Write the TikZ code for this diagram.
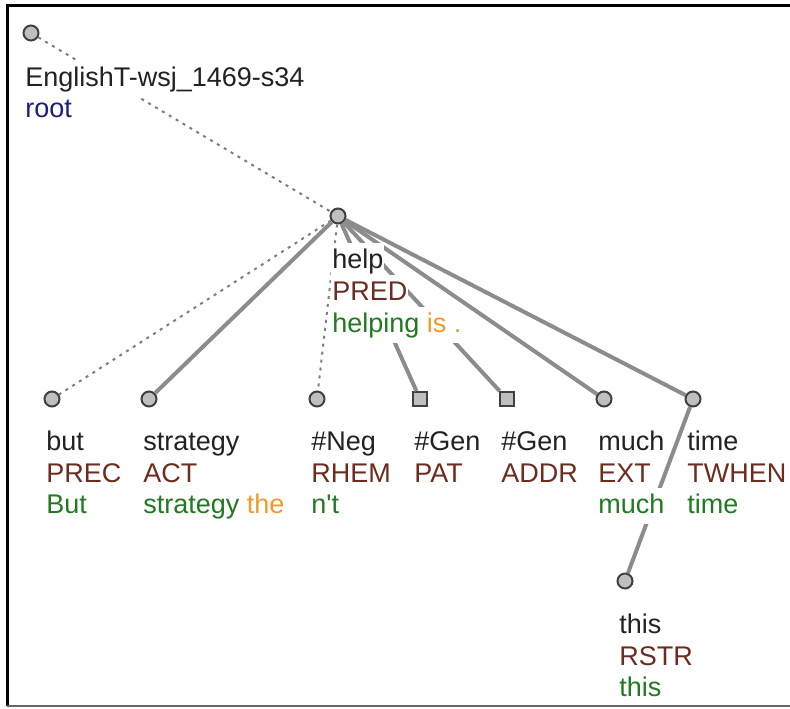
\documentclass[tikz,border=0pt]{standalone}
\usepackage{fontspec}
\setmainfont{Liberation Sans}
\definecolor{wordblack}{HTML}{222222}
\definecolor{funcbrown}{HTML}{6E2C1F}
\definecolor{formgreen}{HTML}{217A21}
\definecolor{auxorange}{HTML}{F09A2A}
\definecolor{rootblue}{HTML}{1C1C80}
\definecolor{edgegray}{HTML}{8C8C8C}

\begin{document}
\begin{tikzpicture}[x=0.5pt,y=-0.5pt,
    font=\fontsize{13.5}{16}\selectfont,
    solidedge/.style={draw=edgegray,line width=2pt},
    dottededge/.style={draw=edgegray!90!black,line width=1pt,dash pattern=on 1.5pt off 2.5pt},
    lbl/.style={anchor=base west,fill=white,inner xsep=0.5pt,inner ysep=2.5pt,
      text height=10pt,text depth=3pt}]
  \useasboundingbox (0,0) rectangle (790,708);

  \begin{scope}[every node/.style={circle,draw=black!75,fill=black!25,line width=1pt,
      minimum size=7.5pt,inner sep=0pt}]
      \node (root) at (31,33) {};
      \node (help) at (338,216) {};
      \node (but) at (52,399) {};
      \node (strategy) at (149,399) {};
      \node (neg) at (317,399) {};
      \node[rectangle,minimum size=7pt] (genpat) at (420,399) {};
      \node[rectangle,minimum size=7pt] (genaddr) at (507,399) {};
      \node (much) at (604,399) {};
      \node (time) at (693,399) {};
      \node (this) at (625,581) {};
  \end{scope}

  \begin{scope}
      \path [dottededge] (root) edge (help);
      \path [dottededge] (help) edge (but);
      \path [solidedge] (help) edge (strategy);
      \path [dottededge] (help) edge (neg);
      \path [solidedge] (help) edge (genpat);
      \path [solidedge] (help) edge (genaddr);
      \path [solidedge] (help) edge (much);
      \path [solidedge] (help) edge (time);
      \path [solidedge] (time) edge (this);
  \end{scope}

  \begin{scope}[every node/.style={lbl}]
      \node[text=wordblack] (root1) at (24,86) {EnglishT-wsj\_1469-s34};
      \node[text=rootblue] (root2) at (24,117) {root};

      \node[text=wordblack] (help1) at (331,268) {help};
      \node[text=funcbrown] (help2) at (331,300) {PRED};
      \node[text=formgreen] (help3) at (331,332) {helping \textcolor{auxorange}{is .}};

      \node[text=wordblack] (but1) at (45,450) {but};
      \node[text=funcbrown] (but2) at (45,482) {PREC};
      \node[text=formgreen] (but3) at (45,513) {But};

      \node[text=wordblack] (strategy1) at (142,450) {strategy};
      \node[text=funcbrown] (strategy2) at (142,482) {ACT};
      \node[text=formgreen] (strategy3) at (142,513) {strategy \textcolor{auxorange}{the}};

      \node[text=wordblack] (neg1) at (310,450) {\#Neg};
      \node[text=funcbrown] (neg2) at (310,482) {RHEM};
      \node[text=formgreen] (neg3) at (310,513) {n\textquotesingle t};

      \node[text=wordblack] (genpat1) at (413,450) {\#Gen};
      \node[text=funcbrown] (genpat2) at (413,482) {PAT};

      \node[text=wordblack] (genaddr1) at (500,450) {\#Gen};
      \node[text=funcbrown] (genaddr2) at (500,482) {ADDR};

      \node[text=wordblack] (much1) at (597,450) {much};
      \node[text=funcbrown] (much2) at (597,482) {EXT};
      \node[text=formgreen] (much3) at (597,513) {much};

      \node[text=wordblack] (time1) at (686,450) {time};
      \node[text=funcbrown] (time2) at (686,482) {TWHEN};
      \node[text=formgreen] (time3) at (686,513) {time};

      \node[text=wordblack] (this1) at (618,633) {this};
      \node[text=funcbrown] (this2) at (618,665) {RSTR};
      \node[text=formgreen] (this3) at (618,696) {this};
  \end{scope}

  % frame
  \draw[line width=1.5pt] (7,706) -- (7,5) -- (790,5);
  \draw[black!60,line width=1pt] (7,706) -- (790,706);
\end{tikzpicture}
\end{document}
